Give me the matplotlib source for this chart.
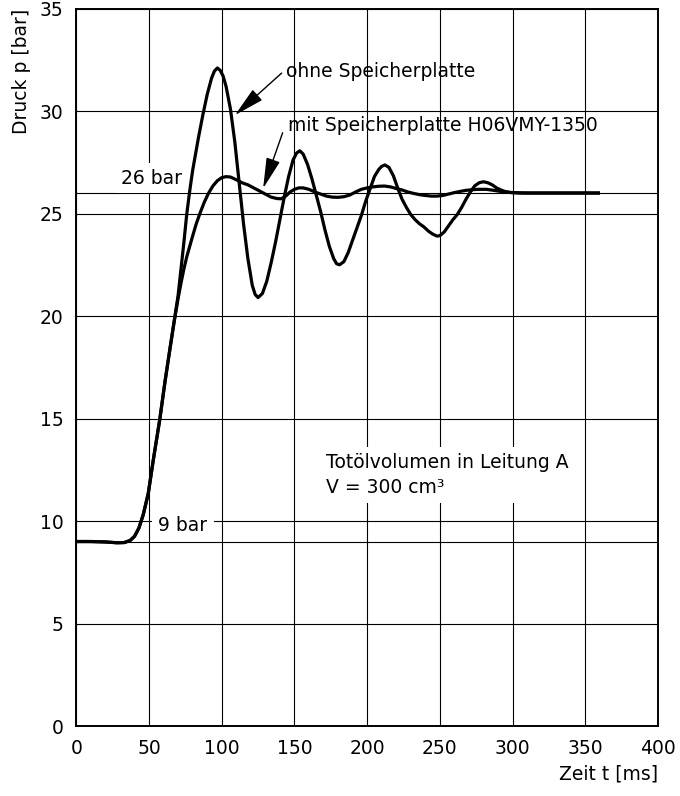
#Druckverlauf mit / ohne Speicherplatte

import matplotlib.pyplot as plt

t_ohne = [0, 10, 20, 28, 33, 37, 40, 43, 46, 49.5,
          53, 57.5, 61, 64.4, 67, 70, 72, 74, 76, 78,
          80, 82, 84, 87, 90, 93, 95, 97, 99, 101,
          103, 106, 109, 112, 115, 118, 121, 123, 125, 128,
          131, 134, 137, 140, 143, 146, 149, 151.5, 153.7, 156,
          159, 162, 165, 168, 171, 174, 177, 179, 181, 184,
          187, 190, 193, 196, 199, 202, 205, 208, 210, 212.2,
          215, 218, 221, 224, 227, 230, 233, 236, 239, 242,
          245, 248, 250, 253, 256, 259, 262, 265, 268, 271,
          274, 277, 280, 283, 286, 289, 292, 295, 298, 305,
          320, 340, 359]
p_ohne = [9.0, 9.0, 8.98, 8.94, 8.95, 9.05, 9.25, 9.65, 10.3, 11.35,
          13.0, 15.0, 16.8, 18.4, 19.6, 21.0, 22.3, 23.6, 25.0, 26.1,
          27.1, 27.9, 28.7, 29.8, 30.8, 31.6, 31.95, 32.1, 31.98, 31.7,
          31.2, 30.1, 28.5, 26.5, 24.5, 22.8, 21.5, 21.05, 20.9, 21.1,
          21.7, 22.6, 23.6, 24.7, 25.8, 26.8, 27.6, 27.95, 28.06, 27.9,
          27.4, 26.7, 25.9, 25.1, 24.2, 23.4, 22.8, 22.55, 22.5, 22.65,
          23.1, 23.7, 24.3, 24.9, 25.6, 26.2, 26.8, 27.15, 27.3, 27.37,
          27.25, 26.85, 26.25, 25.7, 25.3, 24.95, 24.7, 24.5, 24.35, 24.15,
          24.0, 23.9, 23.92, 24.1, 24.4, 24.7, 24.95, 25.3, 25.7, 26.05,
          26.35, 26.5, 26.55, 26.5, 26.4, 26.25, 26.15, 26.07, 26.03, 26.0,
          26.0, 26.0, 26.0]

t_mit = [0, 10, 20, 28, 33, 37, 40, 43, 46, 49.5,
         53, 57.5, 61, 64.4, 67,
         70, 72, 74, 76, 78, 80, 82.5, 85, 88, 91,
         94, 97, 100, 103, 106, 110, 114, 118, 122, 126,
         130, 134, 138, 141, 144, 147, 150, 153, 156, 160,
         164, 168, 172, 176, 180, 184, 188, 192, 196, 200,
         204, 208, 212, 216, 220, 224, 228, 232, 236, 240,
         244, 248, 252, 256, 260, 264, 268, 272, 276, 282,
         288, 294, 300, 310, 330, 359]
p_mit = [9.0, 9.0, 8.98, 8.94, 8.95, 9.05, 9.25, 9.65, 10.3, 11.35,
         13.0, 15.0, 16.8, 18.4, 19.6,
         20.85, 21.6, 22.3, 22.9, 23.4, 23.9, 24.5, 25.0, 25.55, 26.0,
         26.35, 26.6, 26.75, 26.8, 26.78, 26.65, 26.5, 26.4, 26.25, 26.1,
         25.95, 25.8, 25.73, 25.72, 25.85, 26.05, 26.18, 26.25, 26.25, 26.18,
         26.05, 25.95, 25.85, 25.8, 25.79, 25.82, 25.9, 26.05, 26.18, 26.25,
         26.3, 26.33, 26.34, 26.3, 26.22, 26.15, 26.05, 25.98, 25.92, 25.88,
         25.85, 25.85, 25.88, 25.95, 26.02, 26.08, 26.13, 26.16, 26.18, 26.18,
         26.12, 26.05, 26.02, 26.0, 26.0, 26.0]

x_ticks = [0, 50, 100, 150, 200, 250, 300, 350, 400]
y_ticks = [0, 5, 10, 15, 20, 25, 30, 35]
p_start = 9
p_end = 26

#2. Diagramm
plt.rcParams['font.family'] = ['DejaVu Sans']
fs = 13.5

fig = plt.figure(figsize=(6.8, 7.96), dpi=100)
ax = fig.add_axes([0.1122, 0.0879, 0.8554, 0.9014])

ax.set_xlim(0, 400)
ax.set_ylim(0, 35)
ax.set_xticks(x_ticks)
ax.set_yticks(y_ticks)
ax.tick_params(length=0, pad=9.2, labelsize=fs)
ax.grid(True, color='black', lw=0.8, zorder=1)
ax.set_axisbelow(True)
for s in ax.spines.values():
    s.set_linewidth(1.4)

# Hilfslinien 26 bar und 9 bar
ax.axhline(p_end, color='black', lw=0.8, zorder=1)
ax.axhline(p_start, color='black', lw=0.8, zorder=1)

box = dict(boxstyle='square,pad=0.3', facecolor='white', edgecolor='none')
ax.text(52, 26.73, '26 bar', fontsize=fs, ha='center', va='center', bbox=box, zorder=3)
ax.text(73.3, 9.8, '9 bar', fontsize=fs, ha='center', va='center',
        bbox=dict(boxstyle='square,pad=0.35', facecolor='white', edgecolor='none'), zorder=3)
ax.text(171.6, 12.24, 'Totölvolumen in Leitung A\nV = 300 cm³', fontsize=fs,
        ha='left', va='center', linespacing=1.42, bbox=box, zorder=3)

# Kurven
ax.plot(t_ohne, p_ohne, color='black', lw=2.3, solid_joinstyle='round', zorder=4)
ax.plot(t_mit, p_mit, color='black', lw=2.3, solid_joinstyle='round', zorder=4)

# Beschriftungen mit Pfeil
arrow = dict(arrowstyle='-|>,head_length=0.95,head_width=0.22', mutation_scale=20,
             color='black', lw=1.0, shrinkA=0, shrinkB=0)
ax.text(143.9, 31.92, 'ohne Speicherplatte', fontsize=fs, ha='left', va='center', zorder=5)
ax.annotate('', xy=(109.1, 29.8), xytext=(141.2, 31.85), arrowprops=arrow, zorder=5)
ax.text(145.7, 29.27, 'mit Speicherplatte H06VMY-1350', fontsize=fs, ha='left', va='center', zorder=5)
ax.annotate('', xy=(128.5, 26.23), xytext=(141.9, 28.94), arrowprops=arrow, zorder=5)

ax.set_xlabel('Zeit t [ms]', fontsize=fs, loc='right')
ax.set_ylabel('Druck p [bar]', fontsize=fs, loc='top')
ax.xaxis.set_label_coords(1.0, -0.054)
ax.yaxis.set_label_coords(-0.078, 1.0)

plt.savefig('out.png', dpi=100)
